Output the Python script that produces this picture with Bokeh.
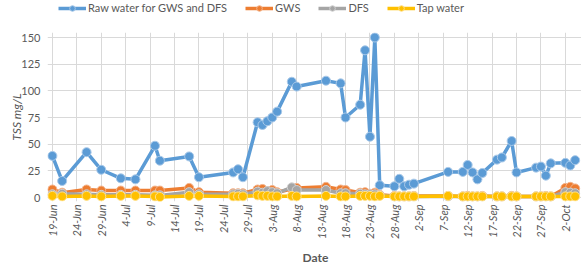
import math
import pandas as pd
from bokeh.plotting import figure
from bokeh.layouts import column
from bokeh.models import FixedTicker, Range1d, Legend, LegendItem, Label
from bokeh.embed import file_html
from bokeh.resources import INLINE

# ---------------- data ----------------
dates = ["2017-06-19", "2017-06-21", "2017-06-26", "2017-06-29", "2017-07-03",
         "2017-07-06", "2017-07-10", "2017-07-11", "2017-07-17", "2017-07-19",
         "2017-07-26", "2017-07-27", "2017-07-28", "2017-07-31", "2017-08-01",
         "2017-08-02", "2017-08-03", "2017-08-04", "2017-08-07", "2017-08-08",
         "2017-08-14", "2017-08-17", "2017-08-18", "2017-08-21", "2017-08-22",
         "2017-08-23", "2017-08-24", "2017-08-25", "2017-08-28", "2017-08-29",
         "2017-08-30", "2017-08-31", "2017-09-01", "2017-09-08", "2017-09-11",
         "2017-09-12", "2017-09-13", "2017-09-14", "2017-09-15", "2017-09-18",
         "2017-09-19", "2017-09-21", "2017-09-22", "2017-09-26", "2017-09-27",
         "2017-09-28", "2017-09-29", "2017-10-02", "2017-10-03", "2017-10-04"]

raw_water = [39, 15.5, 42.5, 26, 18, 17, 48.5, 34.5, 38.5, 19,
             23.5, 26.5, 19, 70.5, 68, 71.5, 75, 80.5, 108.5, 104,
             109.5, 107, 75, 87, 138, 57, 150, 11.5, 10.5, 17.5,
             10.5, 12, 13, 24, 24, 30.5, 23.5, 17, 23, 35.5,
             37.5, 53, 23.5, 28, 29, 20.5, 32, 32.5, 30, 35]

gws = [7.5, 4.5, 7.5, 6.5, 6.5, 6.5, 6.5, 6.5, 9, 5,
       4, 4, 4, 7.5, 8, 6, 7, 5, 8, 9,
       10, 7.5, 7, 4.5, 5, 3.5, 4.5, 2.5, 1.5, 1,
       1, 1, 1.5, 1.5, 1, 1.5, 1, 1, 1.5, 1,
       1, 1.5, 1, 1, 1, 1.5, 1, 9, 10, 8.5]

dfs = [3, 3.5, 3, 2.5, 2.5, 2.5, 2, 2, 5, 3,
       3, 3.5, 3, 5.5, 4.5, 6, 5, 4, 9.5, 7,
       7, 4, 4, 3.5, 3, 3, 3, 2, 1, 1,
       1, 1, 1, 1, 1, 1, 1, 1, 1, 1,
       1, 1, 1, 1, 1, 1, 1, 5, 4.5, 4]

tap_water = [1.5, 1, 1.5, 1, 1.5, 1.5, 1, 0.5, 1.5, 1.5,
             1, 1, 1, 2, 1.5, 1.5, 1, 1, 1.5, 1,
             1.5, 1, 1, 1.5, 1.5, 1.5, 1, 1.5, 1, 1,
             1, 1, 1, 1.5, 1, 1, 1, 1, 1, 1,
             1, 1, 1, 1, 1, 1, 1, 1, 1, 1]

tick_dates = ["2017-06-19", "2017-06-24", "2017-06-29", "2017-07-04", "2017-07-09",
              "2017-07-14", "2017-07-19", "2017-07-24", "2017-07-29", "2017-08-03",
              "2017-08-08", "2017-08-13", "2017-08-18", "2017-08-23", "2017-08-28",
              "2017-09-02", "2017-09-07", "2017-09-12", "2017-09-17", "2017-09-22",
              "2017-09-27", "2017-10-02"]
tick_labels = ["19-Jun", "24-Jun", "29-Jun", "4-Jul", "9-Jul", "14-Jul", "19-Jul",
               "24-Jul", "29-Jul", "3-Aug", "8-Aug", "13-Aug", "18-Aug", "23-Aug",
               "28-Aug", "2-Sep", "7-Sep", "12-Sep", "17-Sep", "22-Sep", "27-Sep",
               "2-Oct"]
y_ticks = [0, 25, 50, 75, 100, 125, 150]

series_names = ["Raw water for GWS and DFS", "GWS", "DFS", "Tap water"]
series_values = [raw_water, gws, dfs, tap_water]
colors = ["#5B9BD5", "#ED7D31", "#A5A5A5", "#FFC000"]
rims = ["#A9C9E9", "#F4B48C", "#D2D2D2", "#FFE08A"]

# -------------- conversion --------------
base = pd.Timestamp(dates[0])
x_days = [(pd.Timestamp(d) - base).days for d in dates]
tick_pos = [(pd.Timestamp(d) - base).days for d in tick_dates]

FONT = "Lato"
TXT = "#595959"
W = 581


def bare(h):
    # strip without axes; its ranges keep the data out of view
    f = figure(width=W, height=h, output_backend="svg", toolbar_location=None,
               x_range=Range1d(1000, 1001), y_range=Range1d(1000, 1001),
               x_axis_type=None, y_axis_type=None,
               min_border_left=0, min_border_right=0, min_border_top=0,
               min_border_bottom=0)
    f.outline_line_color = None
    f.xgrid.visible = False
    f.ygrid.visible = False
    f.border_fill_color = "white"
    f.background_fill_color = "white"
    return f


# ---------------- legend strip ----------------
top = bare(32)
items = []
for name, vals, c, rim in zip(series_names, series_values, colors, rims):
    r1 = top.line(x_days, vals, line_color=c, line_width=3.5)
    r2 = top.scatter(x_days, vals, size=9, fill_color=c, line_color=rim, line_width=1)
    items.append(LegendItem(label=name, renderers=[r1, r2]))
legend = Legend(items=items, orientation="horizontal", location=(11, 17.5),
                padding=0, margin=0, spacing=18, label_standoff=2,
                glyph_width=28, glyph_height=14, label_height=14,
                label_text_font=FONT, label_text_font_size="11px",
                label_text_color=TXT, border_line_color=None,
                background_fill_alpha=0)
top.add_layout(legend)

# ---------------- main chart ----------------
p = figure(width=W, height=214, output_backend="svg", toolbar_location=None,
           x_range=Range1d(-1, 108.3), y_range=Range1d(-3.75, 154.69),
           min_border_left=47, min_border_right=0, min_border_top=0,
           min_border_bottom=45)
p.outline_line_color = None
p.background_fill_color = "white"
p.border_fill_color = "white"

p.xaxis.ticker = FixedTicker(ticks=tick_pos)
p.xaxis.major_label_overrides = {pos: lab for pos, lab in zip(tick_pos, tick_labels)}
p.xaxis.major_label_orientation = math.pi / 2
p.xaxis.major_label_text_font_style = "italic"
p.yaxis.ticker = FixedTicker(ticks=y_ticks)

for ax in (p.xaxis, p.yaxis):
    ax.axis_line_color = None
    ax.major_tick_line_color = None
    ax.minor_tick_line_color = None
    ax.major_tick_out = 0
    ax.major_tick_in = 0
    ax.minor_tick_out = 0
    ax.major_label_text_font = FONT
    ax.major_label_text_font_size = "11px"
    ax.major_label_text_color = TXT
    ax.axis_label_text_font = FONT
    ax.axis_label_text_color = TXT

p.xaxis.major_label_standoff = 3
p.yaxis.major_label_standoff = 7
p.yaxis.axis_label = "TSS mg/L"
p.yaxis.axis_label_text_font_style = "italic"
p.yaxis.axis_label_text_font_size = "12px"
p.yaxis.axis_label_standoff = -6

p.xgrid.ticker = FixedTicker(ticks=tick_pos)
p.ygrid.ticker = FixedTicker(ticks=y_ticks)
p.xgrid.grid_line_color = "#D9D9D9"
p.ygrid.grid_line_color = "#D9D9D9"

for vals, c, rim in zip(series_values, colors, rims):
    p.line(x_days, vals, line_color=c, line_width=3.5)
    p.scatter(x_days, vals, size=9, fill_color=c, line_color=rim, line_width=1)

# ---------------- x title strip ----------------
bottom = bare(18)
bottom.add_layout(Label(x=268, y=7, x_units="screen", y_units="screen",
                        text="Date", text_align="center", text_baseline="middle",
                        text_font=FONT, text_font_size="12px",
                        text_font_style="bold", text_color=TXT))

layout = column(top, p, bottom, spacing=0)
open("out.html", "w").write(file_html(layout, INLINE))
